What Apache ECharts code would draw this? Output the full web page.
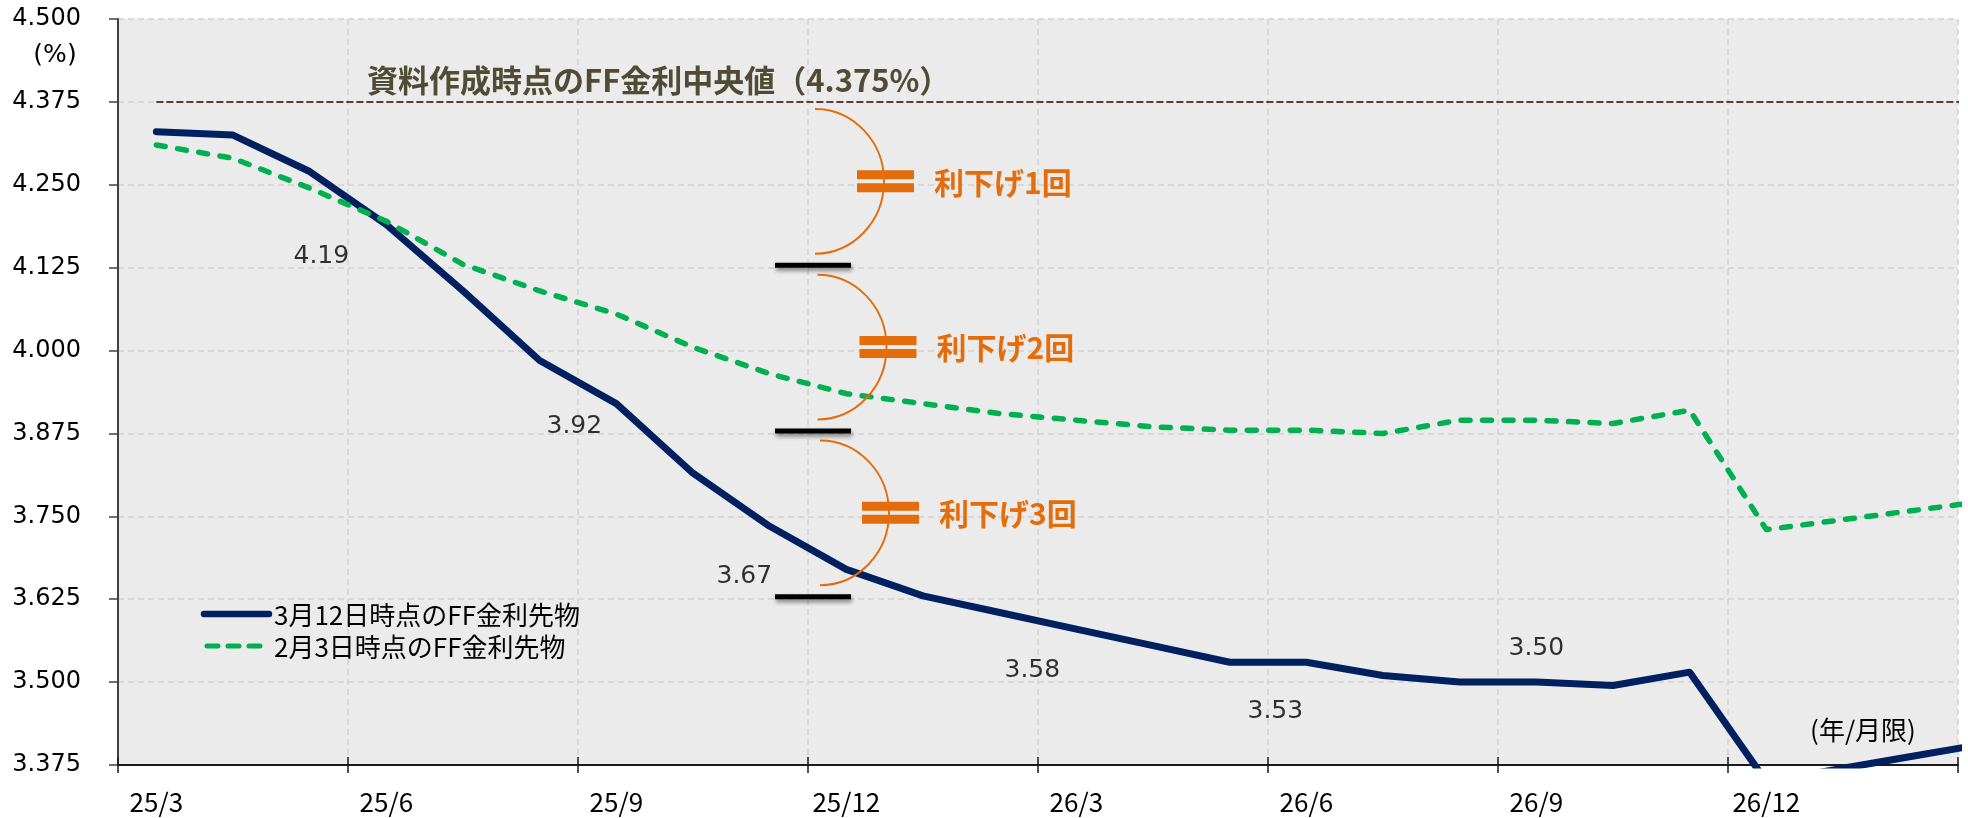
<!DOCTYPE html>
<html>
<head>
<meta charset="utf-8">
<script src="https://cdn.jsdelivr.net/npm/echarts@6/dist/echarts.min.js"></script>
<style>
  html, body { margin: 0; padding: 0; background: #ffffff; }
  #chart { width: 1968px; height: 818px; }
</style>
</head>
<body>
<div id="chart"></div>
<script>
// Contract months (year/month), one category per month
const months = [
  '25/3', '25/4', '25/5', '25/6', '25/7', '25/8', '25/9', '25/10', '25/11', '25/12',
  '26/1', '26/2', '26/3', '26/4', '26/5', '26/6', '26/7', '26/8', '26/9', '26/10',
  '26/11', '26/12', '27/1', '27/2', '27/3'
];
// Months shown on the axis (first 24; the last one runs past the right edge)
const axisMonths = months.slice(0, 24);

// FF rate futures implied rates (%)
const futuresMar12 = [
  4.33, 4.325, 4.27, 4.19, 4.09, 3.985, 3.92, 3.815, 3.735, 3.67,
  3.63, 3.605, 3.58, 3.555, 3.53, 3.53, 3.51, 3.50, 3.50, 3.495,
  3.515, 3.35, 3.37, 3.39, 3.41
];
const futuresFeb3 = [
  4.31, 4.29, 4.245, 4.195, 4.13, 4.09, 4.055, 4.005, 3.965, 3.935,
  3.92, 3.905, 3.895, 3.885, 3.88, 3.88, 3.875, 3.895, 3.895, 3.89,
  3.91, 3.73, 3.745, 3.76, 3.775
];

// FF target range midpoint when the material was prepared
const medianRate = 4.375;

// Months whose Mar-12 value is written on the chart
const labelledMonths = ['25/6', '25/9', '25/12', '26/3', '26/6', '26/9'];
// Pixel offsets of those value labels from their points
const labelOffsets = [[-65, 32], [-42, 23], [-102, 7], [-44, 41], [-31, 49], [0, -34]];

// Rate levels after 0, 1, 2, 3 cuts of 25bp, shown at the 25/12 boundary
const cutLevels = [4.375, 4.125, 3.875, 3.625];
const cutMonth = '25/12';
const cutTexts = ['利下げ1回', '利下げ2回', '利下げ3回'];

const seriesNames = ['3月12日時点のFF金利先物', '2月3日時点のFF金利先物'];

const NAVY = '#002060';
const GREEN = '#00b050';
const ORANGE = '#e46c0a';
const JP = '"Noto Sans CJK JP", "Noto Sans", sans-serif';
const NUM = '"DejaVu Sans", Verdana, sans-serif';
const NAVY_W = 7;
const GREEN_W = 5.5;

const chart = echarts.init(document.getElementById('chart'), null, { renderer: 'canvas' });

const toPoints = arr => arr.map((v, i) => [i + 0.5, v]);

const option = {
  animation: false,
  backgroundColor: '#ffffff',
  grid: {
    left: 118, right: 10, top: 19, bottom: 53,
    show: true, backgroundColor: '#ebebeb', borderWidth: 0,
    outerBoundsMode: 'none'
  },
  xAxis: [
    {
      type: 'value', min: 0, max: 24, interval: 3, position: 'bottom',
      axisLine: { show: true, lineStyle: { color: '#1a1a1a', width: 2 } },
      axisTick: { show: true, inside: true, length: 8, lineStyle: { color: '#1a1a1a', width: 1.5 } },
      axisLabel: { show: false },
      splitLine: { show: true, lineStyle: { color: '#d2d2d2', width: 1.5, type: [6, 4] } }
    },
    {
      type: 'value', min: 0, max: 24, interval: 3, position: 'bottom', offset: 0,
      axisLine: { show: false },
      axisTick: { show: true, inside: false, length: 8, lineStyle: { color: '#1a1a1a', width: 1.5 } },
      axisLabel: { show: false },
      splitLine: { show: false }
    },
    {
      type: 'category', data: axisMonths, boundaryGap: true, position: 'bottom', offset: 0,
      axisLine: { show: false },
      axisTick: { show: false },
      axisLabel: { interval: 2, margin: 24, fontFamily: JP, fontSize: 26, color: '#000000' },
      splitLine: { show: false }
    }
  ],
  yAxis: {
    type: 'value', min: 3.375, max: 4.5, interval: 0.125,
    axisLine: { show: true, lineStyle: { color: '#404040', width: 2 } },
    axisTick: { show: true, inside: false, length: 9, lineStyle: { color: '#404040', width: 1.5 } },
    axisLabel: {
      margin: 37, fontFamily: NUM, fontSize: 24, color: '#000000',
      formatter: v => v.toFixed(3)
    },
    splitLine: { show: true, lineStyle: { color: '#d2d2d2', width: 1.5, type: [6, 4] } }
  },
  series: [
    {
      name: 'median',
      type: 'line', xAxisIndex: 0, yAxisIndex: 0,
      data: months.map((m, i) => [i + 0.5, medianRate]),
      symbol: 'none', silent: true, z: 2,
      lineStyle: { color: '#5c3b3b', width: 2, type: [7, 3] }
    },
    {
      name: seriesNames[0],
      type: 'line', xAxisIndex: 0, yAxisIndex: 0,
      data: toPoints(futuresMar12),
      symbol: 'none', z: 3,
      itemStyle: { color: NAVY },
      lineStyle: { color: NAVY, width: NAVY_W, join: 'round', cap: 'round' }
    },
    {
      name: seriesNames[1],
      type: 'line', xAxisIndex: 0, yAxisIndex: 0,
      data: toPoints(futuresFeb3),
      symbol: 'none', z: 4,
      itemStyle: { color: GREEN },
      lineStyle: { color: GREEN, width: GREEN_W, type: [9, 12.5], cap: 'round', join: 'round' }
    },
    {
      name: 'values',
      type: 'scatter', xAxisIndex: 0, yAxisIndex: 0,
      symbolSize: 0, silent: true, z: 5,
      itemStyle: { color: 'rgba(0,0,0,0)' },
      label: {
        show: true, position: 'inside',
        fontFamily: NUM, fontSize: 25, color: '#000000',
        formatter: p => p.value[1].toFixed(2)
      },
      data: labelledMonths.map((m, k) => {
        const i = months.indexOf(m);
        return { value: [i + 0.5, futuresMar12[i]], label: { offset: labelOffsets[k] } };
      })
    }
  ]
};

chart.setOption(option);

// Annotations placed through the axes' own scales
const px = (x, y) => chart.convertToPixel({ xAxisIndex: 0, yAxisIndex: 0 }, [x, y]);
const graphics = [];

// Title of the median reference line
const medianPt = px(0, medianRate);
graphics.push({
  type: 'text', x: 367, y: medianPt[1] - 22, z: 100,
  style: {
    text: '資料作成時点のFF金利中央値（' + medianRate.toFixed(3) + '%）',
    font: 'bold 31px ' + JP, fill: '#4f4b35',
    align: 'left', verticalAlign: 'middle'
  }
});

// Unit labels
graphics.push({
  type: 'text', x: 55, y: 55, z: 100,
  style: { text: '(%)', font: '25px ' + NUM, fill: '#000000', align: 'center', verticalAlign: 'middle' }
});
graphics.push({
  type: 'text', x: 1863, y: 730, z: 100,
  style: { text: '(年/月限)', font: '26px ' + JP, fill: '#000000', align: 'center', verticalAlign: 'middle' }
});

// Legend
graphics.push({
  type: 'line', z: 100,
  shape: { x1: 204, y1: 614, x2: 269, y2: 614 },
  style: { stroke: NAVY, lineWidth: 6.5, lineCap: 'round' }
});
graphics.push({
  type: 'line', z: 100,
  shape: { x1: 207, y1: 646, x2: 260, y2: 646 },
  style: { stroke: GREEN, lineWidth: 5, lineCap: 'round', lineDash: [11, 10] }
});
seriesNames.forEach((name, i) => {
  graphics.push({
    type: 'text', x: 274, y: 615 + 32 * i, z: 100,
    style: { text: name, font: '26px ' + JP, fill: '#000000', align: 'left', verticalAlign: 'middle' }
  });
});

// Brackets: one 25bp cut between consecutive levels
const tickX = px(months.indexOf(cutMonth), medianRate)[0];
for (let i = 0; i < cutTexts.length; i++) {
  const yU = px(0, cutLevels[i])[1];
  const yL = px(0, cutLevels[i + 1])[1];
  const ex = tickX + 7 + 2.5 * i;
  const top = yU + 7;
  const bottom = yL - 14;
  const ry = (bottom - top) / 2;
  const cy = (top + bottom) / 2;

  // level bar
  graphics.push({
    type: 'rect', z: 90,
    shape: { x: tickX - 33, y: yL - 5, width: 76, height: 5 },
    style: { fill: '#000000', shadowBlur: 4, shadowOffsetX: 1, shadowOffsetY: 3, shadowColor: 'rgba(0,0,0,0.45)' }
  });
  // half-ellipse bracket
  graphics.push({
    type: 'arc', z: 95,
    x: ex, y: cy, scaleX: 69 / ry, scaleY: 1,
    shape: { cx: 0, cy: 0, r: ry, startAngle: -Math.PI / 2, endAngle: Math.PI / 2, clockwise: true },
    style: { fill: null, stroke: ORANGE, lineWidth: 2 }
  });
  // equals sign
  graphics.push({
    type: 'rect', z: 96,
    shape: { x: ex + 42, y: cy - 11, width: 57, height: 9 },
    style: { fill: ORANGE }
  });
  graphics.push({
    type: 'rect', z: 96,
    shape: { x: ex + 42, y: cy + 2, width: 57, height: 9 },
    style: { fill: ORANGE }
  });
  // caption
  graphics.push({
    type: 'text', x: ex + 119, y: cy + 1, z: 96,
    style: {
      text: cutTexts[i], font: 'bold 30px ' + JP, fill: ORANGE,
      align: 'left', verticalAlign: 'middle'
    }
  });
}

chart.setOption({ graphic: graphics });
</script>
</body>
</html>
